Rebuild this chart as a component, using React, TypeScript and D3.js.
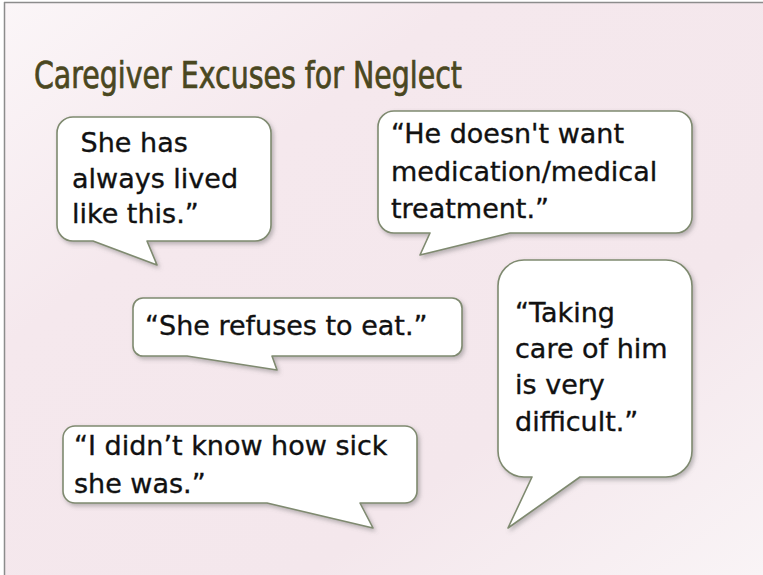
import * as d3 from "d3";

const W = 763;
const H = 575;

const TITLE = "Caregiver Excuses for Neglect";

// speech bubble texts, one array of lines per bubble
const quoteShe = [" She has", "always lived", "like this.\u201d"];
const quoteMeds = ["\u201cHe doesn't want", "medication/medical", "treatment.\u201d"];
const quoteEat = ["\u201cShe refuses to eat.\u201d"];
const quoteCare = ["\u201cTaking", "care of him", "is very", "difficult.\u201d"];
const quoteSick = ["\u201cI didn\u2019t know how sick", "she was.\u201d"];

// layout: box, corner radius, tail (base on bottom edge + tip), text origin
const LAYOUT = [
  { lines: quoteShe, x0: 57, y0: 117, x1: 271, y1: 241, r: 16, tail: [93, 147, 157, 265], tx: 72, ty: 152, lh: 35.5 },
  { lines: quoteMeds, x0: 378, y0: 111, x1: 692, y1: 233, r: 16, tail: [430, 510, 420, 255], tx: 391, ty: 143, lh: 37.5 },
  { lines: quoteEat, x0: 133, y0: 298, x1: 462, y1: 356, r: 10, tail: [187, 272, 277, 370], tx: 145, ty: 335, lh: 36 },
  { lines: quoteCare, x0: 498, y0: 260, x1: 692, y1: 477, r: 26, tail: [532, 580, 508, 528], tx: 515, ty: 322, lh: 36.2 },
  { lines: quoteSick, x0: 63, y0: 426, x1: 417, y1: 503, r: 12, tail: [267, 360, 373, 528], tx: 74, ty: 455, lh: 38 },
];

function bubblePath(b: typeof LAYOUT[number]) {
  const { x0, y0, x1, y1, r } = b;
  const [bl, br, tipX, tipY] = b.tail;
  const p = d3.path();
  p.moveTo(x0 + r, y0);
  p.lineTo(x1 - r, y0);
  p.arcTo(x1, y0, x1, y0 + r, r);
  p.lineTo(x1, y1 - r);
  p.arcTo(x1, y1, x1 - r, y1, r);
  p.lineTo(br, y1);
  p.lineTo(tipX, tipY);
  p.lineTo(bl, y1);
  p.lineTo(x0 + r, y1);
  p.arcTo(x0, y1, x0, y1 - r, r);
  p.lineTo(x0, y0 + r);
  p.arcTo(x0, y0, x0 + r, y0, r);
  p.closePath();
  return p.toString();
}

const FONT = "'DejaVu Sans', sans-serif";
const TITLE_FONT = "'DejaVu Sans Condensed', 'DejaVu Sans', sans-serif";

export default function App() {
  return (
    <svg
      width={W}
      height={H}
      style={{ position: "absolute", left: 0, top: 0, display: "block" }}
    >
      <defs>
        <linearGradient id="bg" x1="0" y1="0" x2="1" y2="1">
          <stop offset="0%" stopColor="#fbf6f8" />
          <stop offset="30%" stopColor="#f5e8ed" />
          <stop offset="70%" stopColor="#f4e7ec" />
          <stop offset="100%" stopColor="#f9f4f6" />
        </linearGradient>
        <filter id="shadow" x="-10%" y="-10%" width="130%" height="130%">
          <feDropShadow dx="2" dy="2.5" stdDeviation="2" floodColor="#6b6b6b" floodOpacity="0.45" />
        </filter>
      </defs>
      <rect x={0} y={0} width={W} height={H} fill="#ffffff" />
      <rect x={4} y={2} width={W - 4} height={H - 2} fill="url(#bg)" />
      <line x1={4} y1={2.5} x2={W} y2={2.5} stroke="#8c8c8c" strokeWidth={1.5} />
      <line x1={4.5} y1={2} x2={4.5} y2={H} stroke="#8c8c8c" strokeWidth={1.5} />

      <text
        x={34}
        y={88}
        fill="#4a4720"
        stroke="#4a4720"
        strokeWidth={0.7}
        fontFamily={TITLE_FONT}
        fontSize={38}
        textLength={428}
        lengthAdjust="spacingAndGlyphs"
      >
        {TITLE}
      </text>

      {LAYOUT.map((b, i) => (
        <g key={i}>
          <path
            d={bubblePath(b)}
            fill="#ffffff"
            stroke="#7f8a70"
            strokeWidth={1.6}
            strokeLinejoin="round"
            filter="url(#shadow)"
          />
          {b.lines.map((ln, j) => (
            <text
              key={j}
              x={b.tx}
              y={b.ty + j * b.lh}
              fill="#111111"
              stroke="#111111"
              strokeWidth={0.35}
              fontFamily={FONT}
              fontSize={27}
              style={{ whiteSpace: "pre" }}
            >
              {ln}
            </text>
          ))}
        </g>
      ))}
    </svg>
  );
}
